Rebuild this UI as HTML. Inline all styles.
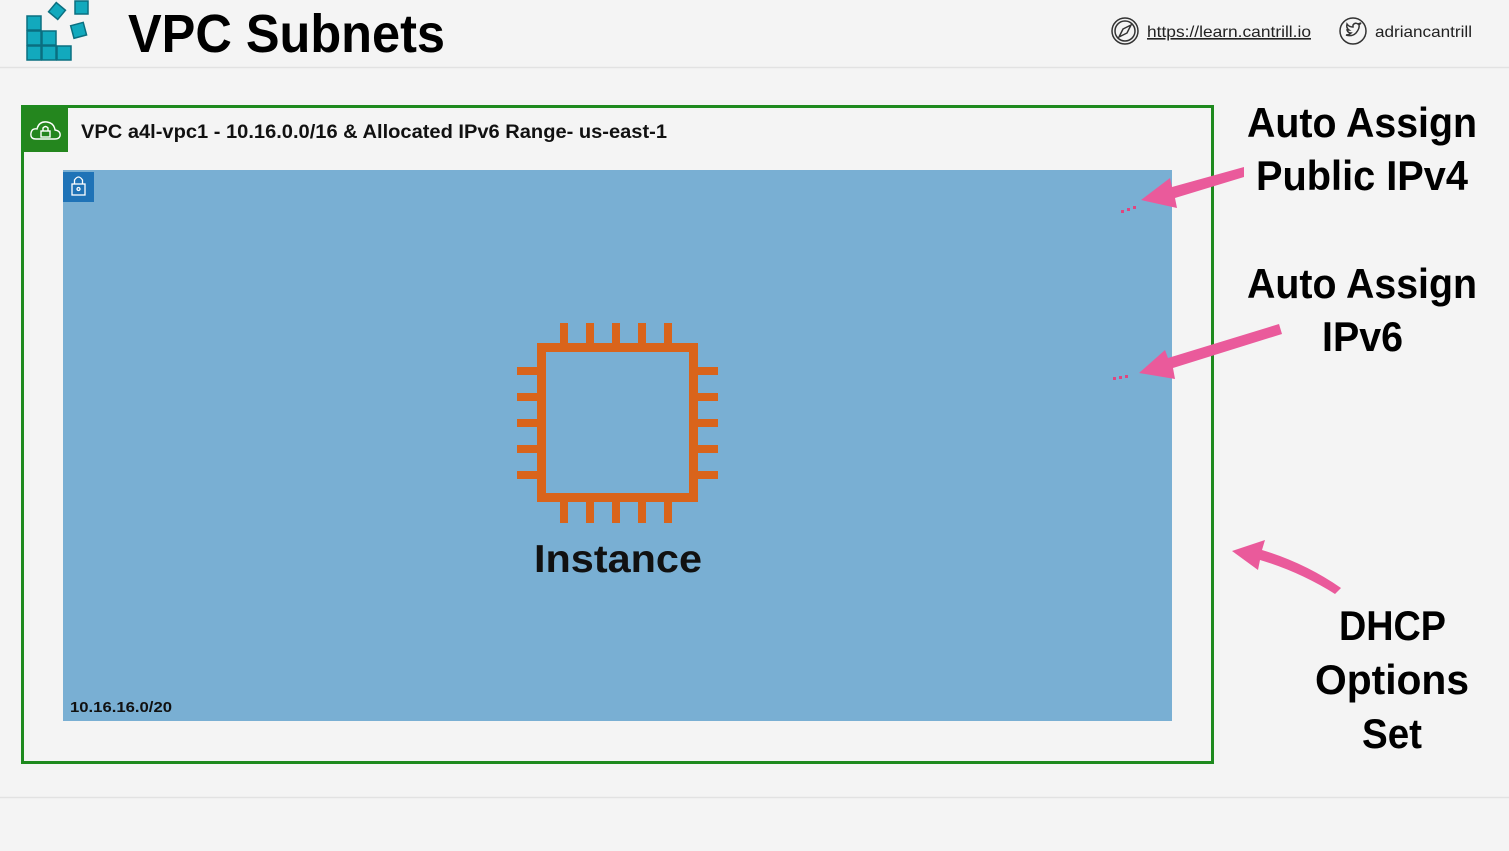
<!DOCTYPE html>
<html><head><meta charset="utf-8"><title>VPC Subnets</title>
<style>
html,body{margin:0;padding:0;background:#f4f4f4;}
body{width:1509px;height:846px;overflow:hidden;font-family:"Liberation Sans",sans-serif;}
</style></head>
<body>
<svg width="1509" height="846" viewBox="0 0 1509 846" xmlns="http://www.w3.org/2000/svg" font-family="Liberation Sans, sans-serif">
<rect width="1509" height="846" fill="#f4f4f4"/>
<!-- header -->
<g fill="#12a9bd" stroke="#0b6f80" stroke-width="1.5">
  <rect x="27" y="16" width="14" height="14"/>
  <rect x="27" y="31" width="14" height="14"/><rect x="42" y="31" width="14" height="14"/>
  <rect x="27" y="46" width="14" height="14"/><rect x="42" y="46" width="14" height="14"/><rect x="57" y="46" width="14" height="14"/>
  <rect x="51" y="5" width="12" height="12" transform="rotate(40 57 11)"/>
  <rect x="75" y="1" width="13" height="13"/>
  <rect x="72" y="24" width="13" height="13" transform="rotate(-15 78 30)"/>
</g>
<text x="128" y="52" font-size="54" font-weight="bold" fill="#000" textLength="317" lengthAdjust="spacingAndGlyphs">VPC Subnets</text>
<g fill="none" stroke="#333" stroke-width="1.5">
  <circle cx="1125" cy="31" r="13"/><circle cx="1125" cy="31" r="10"/>
  <path d="M1131 25 L1127 33 L1119 37 L1123 29 Z"/>
</g>
<text x="1147" y="37" font-size="16" fill="#222" text-decoration="underline" textLength="164" lengthAdjust="spacingAndGlyphs">https://learn.cantrill.io</text>
<g fill="none" stroke="#333" stroke-width="1.5">
  <circle cx="1353" cy="31" r="13"/>
  <path d="M1346 35 Q1352 37 1356 33 Q1360 28 1359 25 L1361 23 L1358 24 Q1355 22 1353 25 L1353 27 Q1349 27 1347 24 Q1346 28 1349 30 L1347 30 Q1348 33 1351 33 Q1349 35 1346 35 Z"/>
</g>
<text x="1375" y="37" font-size="16" fill="#222" textLength="97" lengthAdjust="spacingAndGlyphs">adriancantrill</text>
<line x1="0" y1="67.5" x2="1509" y2="67.5" stroke="#e2e2e2" stroke-width="1.5"/>
<line x1="0" y1="797.5" x2="1509" y2="797.5" stroke="#e2e2e2" stroke-width="1.5"/>

<!-- VPC -->
<rect x="22.5" y="106.5" width="1190" height="656" fill="none" stroke="#1e8a1e" stroke-width="3"/>
<rect x="24" y="108" width="44" height="44" fill="#24861e"/>
<g fill="none" stroke="#fff" stroke-width="1.4">
  <path d="M36 139 Q30 139 31 133 Q32 128 37 129 Q39 121 47 122 Q54 123 55 130 Q61 131 60 136 Q59 139 55 139 Z"/>
  <rect x="41" y="131" width="9" height="6"/><path d="M43 131 V128 Q45.5 125 48 128 V131"/>
</g>
<text x="81" y="138" font-size="19" font-weight="bold" fill="#111" textLength="586" lengthAdjust="spacingAndGlyphs">VPC a4l-vpc1 - 10.16.0.0/16 &amp; Allocated IPv6 Range- us-east-1</text>

<!-- subnet -->
<rect x="63" y="170" width="1109" height="551" fill="#79afd3"/>
<rect x="63" y="172" width="31" height="30" fill="#1f73b7"/>
<g fill="none" stroke="#fff" stroke-width="1.3">
  <rect x="72" y="184" width="13" height="11"/><path d="M74.5 184 V180 Q78.5 174 82.5 180 V184"/><circle cx="78.5" cy="189" r="1.5"/>
</g>
<text x="70" y="712" font-size="15" font-weight="bold" fill="#111" textLength="102" lengthAdjust="spacingAndGlyphs">10.16.16.0/20</text>

<!-- instance chip -->
<g fill="#d9641b">
  <path fill-rule="evenodd" d="M537 343 H698 V502 H537 Z M546 352 V493 H689 V352 Z"/>
  <rect x="560" y="323" width="8" height="22"/><rect x="586" y="323" width="8" height="22"/><rect x="612" y="323" width="8" height="22"/><rect x="638" y="323" width="8" height="22"/><rect x="664" y="323" width="8" height="22"/>
  <rect x="560" y="500" width="8" height="23"/><rect x="586" y="500" width="8" height="23"/><rect x="612" y="500" width="8" height="23"/><rect x="638" y="500" width="8" height="23"/><rect x="664" y="500" width="8" height="23"/>
  <rect x="517" y="367" width="22" height="8"/><rect x="517" y="393" width="22" height="8"/><rect x="517" y="419" width="22" height="8"/><rect x="517" y="445" width="22" height="8"/><rect x="517" y="471" width="22" height="8"/>
  <rect x="696" y="367" width="22" height="8"/><rect x="696" y="393" width="22" height="8"/><rect x="696" y="419" width="22" height="8"/><rect x="696" y="445" width="22" height="8"/><rect x="696" y="471" width="22" height="8"/>
</g>
<text x="534" y="572" font-size="39" font-weight="bold" fill="#111" textLength="168" lengthAdjust="spacingAndGlyphs">Instance</text>

<!-- dots -->
<g fill="#e0457f">
  <rect x="1121" y="210" width="3" height="3"/><rect x="1127" y="208" width="3" height="3"/><rect x="1133" y="206" width="3" height="3"/>
  <rect x="1113" y="377" width="3" height="3"/><rect x="1119" y="376" width="3" height="3"/><rect x="1125" y="375" width="3" height="3"/>
</g>

<!-- arrows -->
<g fill="#ea5a9b">
  <path d="M1244 167 L1244 177 L1175 198 L1177 208 L1141 200 L1170 178 L1172 187 Z"/>
  <path d="M1279 324 L1282 334 L1173 368 L1175 379 L1139 373 L1165 350 L1168 358 Z"/>
  <path d="M1232 551 L1265 540 L1262 550 Q1305 563 1341 588 L1335 594 Q1300 572 1260 560 L1258 570 Z"/>
</g>

<!-- annotations -->
<g font-size="42" font-weight="bold" fill="#000">
  <text><tspan x="1247" y="137" textLength="230" lengthAdjust="spacingAndGlyphs">Auto Assign</tspan><tspan x="1256" y="190" textLength="212" lengthAdjust="spacingAndGlyphs">Public IPv4</tspan></text>
  <text><tspan x="1247" y="298" textLength="230" lengthAdjust="spacingAndGlyphs">Auto Assign</tspan><tspan x="1322" y="351" textLength="81" lengthAdjust="spacingAndGlyphs">IPv6</tspan></text>
  <text><tspan x="1339" y="640" textLength="107" lengthAdjust="spacingAndGlyphs">DHCP</tspan><tspan x="1315" y="694" textLength="154" lengthAdjust="spacingAndGlyphs">Options</tspan><tspan x="1362" y="748" textLength="60" lengthAdjust="spacingAndGlyphs">Set</tspan></text>
</g>
</svg>
</body></html>
